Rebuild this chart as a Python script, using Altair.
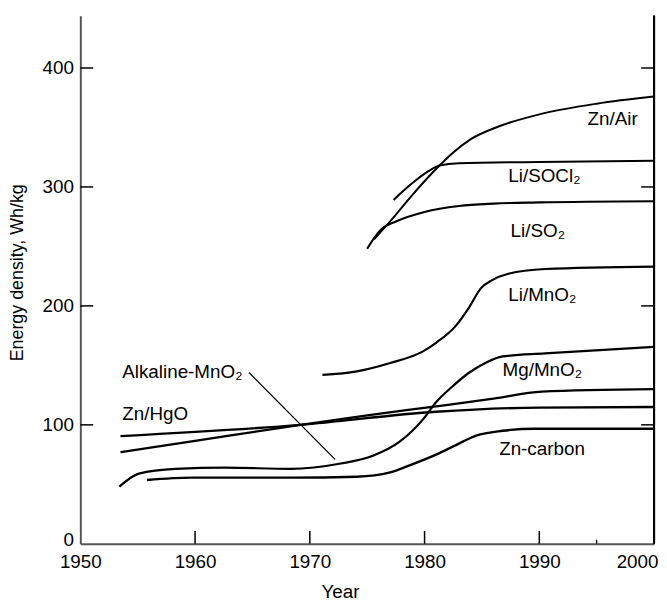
import altair as alt
import pandas as pd

FONT = "Liberation Sans"

# ---- curve data (year, energy density Wh/kg) ----
zn_air_year = [1975.6, 1977.0, 1979.0, 1981.3, 1982.5, 1984.0, 1986.5, 1990.0, 1995.0, 2000.0]
zn_air_val = [256, 271, 294, 318, 329, 340, 351, 361, 370, 376]

li_socl2_year = [1977.3, 1978.3, 1979.3, 1980.3, 1981.3, 1983.0, 1990.0, 2000.0]
li_socl2_val = [289, 298, 306, 313, 318, 320, 321, 322]

li_so2_year = [1975.0, 1975.6, 1976.3, 1977.5, 1980.0, 1983.0, 1986.0, 1990.0, 2000.0]
li_so2_val = [248, 257, 265, 271, 279, 284, 286, 287, 288]

li_mno2_year = [1971.1, 1974.1, 1977.0, 1979.9, 1981.0, 1982.7, 1983.9, 1984.9, 1985.9, 1987.3, 1990.5, 2000.0]
li_mno2_val = [142, 145, 152, 162, 169, 183, 199, 214.7, 221.7, 227, 231, 233]

alk_year = [1953.4, 1955.1, 1958.3, 1962.6, 1968.3, 1972.7, 1975.5, 1977.8, 1979.9, 1981.0, 1982.4, 1983.9, 1985.3, 1986.8, 1990.5, 2000.0]
alk_val = [48, 59, 63, 64, 63, 67.5, 74, 85.6, 105, 119, 132, 144, 152, 157.5, 160, 165.6]

mg_year = [1953.5, 1960.0, 1969.2, 1975.0, 1981.0, 1986.0, 1990.2, 2000.0]
mg_val = [77, 86.5, 100, 108, 115.5, 122, 128, 130]

hgo_year = [1953.5, 1969.2, 1981.0, 1990.0, 2000.0]
hgo_val = [90.5, 100, 111, 114.5, 115]

znc_year = [1955.8, 1959.7, 1968.3, 1974.1, 1977.0, 1978.7, 1981.0, 1982.7, 1984.5, 1986.8, 1989.6, 2000.0]
znc_val = [53.6, 55.6, 55.6, 56.4, 60, 66, 75, 82.8, 91, 95, 96.7, 96.7]

series_names = ["Zn/Air", "Li/SOCl2", "Li/SO2", "Li/MnO2",
                "Alkaline-MnO2", "Mg/MnO2", "Zn/HgO", "Zn-carbon"]
series_data = [(zn_air_year, zn_air_val), (li_socl2_year, li_socl2_val),
               (li_so2_year, li_so2_val), (li_mno2_year, li_mno2_val),
               (alk_year, alk_val), (mg_year, mg_val),
               (hgo_year, hgo_val), (znc_year, znc_val)]
series_widths = [2.0, 2.4, 2.8, 2.8, 2.8, 2.8, 2.8, 2.8]

# ---- labels ----
label_text = ["Zn/Air", "Li/SOCl\u2082", "Li/SO\u2082", "Li/MnO\u2082",
              "Mg/MnO\u2082", "Zn-carbon", "Alkaline-MnO\u2082", "Zn/HgO"]
label_year = [1994.2, 1987.3, 1987.5, 1987.3, 1986.8, 1986.5, 1953.65, 1953.65]
label_val = [357, 309, 263, 209, 146, 80, 144, 109]

# pointer line from the Alkaline-MnO2 label
pointer_year = [1964.7, 1972.2]
pointer_val = [144, 71]

# ticks
x_tick_labels = [1950, 1960, 1970, 1980, 1990, 2000]
x_inner_ticks = [1960, 1970, 1980, 1990]
x_minor_ticks = [1995]
y_tick_labels = [0, 100, 200, 300, 400]
y_inner_ticks = [100, 200, 300, 400]

W, H = 579, 533
X_DOMAIN = [1950, 2000]
Y_DOMAIN = [0, 444]

rows = []
for name, (ys, vs) in zip(series_names, series_data):
    for yr, v in zip(ys, vs):
        rows.append({"series": name, "year": yr, "v": v})
df = pd.DataFrame(rows)

xscale = alt.Scale(domain=X_DOMAIN, nice=False, zero=False)
yscale = alt.Scale(domain=Y_DOMAIN, nice=False, zero=False)

x_axis = alt.Axis(values=x_tick_labels, format="d", ticks=False, tickSize=0,
                  grid=False, domainColor="#555555", domainWidth=2,
                  labelFont=FONT, labelFontSize=19, labelColor="black",
                  labelBaseline="alphabetic", labelPadding=24,
                  labelFlush=False,
                  labelAlign={"condition": {"test": "datum.value == 2000", "value": "right"},
                              "value": "center"},
                  labelOffset={"condition": {"test": "datum.value == 2000", "value": 4},
                               "value": 0},
                  title="Year", titleFont=FONT, titleFontSize=19,
                  titleFontWeight="normal", titleColor="black",
                  titleX=262, titleY=54, titleBaseline="alphabetic",
                  titleAlign="center")
y_axis = alt.Axis(values=y_tick_labels, ticks=False, tickSize=0, grid=False,
                  domainColor="#555555", domainWidth=2,
                  labelFont=FONT, labelFontSize=19, labelColor="black",
                  labelPadding=7, labelFlush=False,
                  labelOffset={"condition": {"test": "datum.value == 0", "value": -4},
                               "value": 0},
                  title="Energy density, Wh/kg", titleFont=FONT,
                  titleFontSize=18, titleFontWeight="normal",
                  titleColor="black", titleX=-63, titleY=259,
                  titleBaseline="middle", titleAlign="center",
                  titleAngle=270)

X = alt.X("year:Q", scale=xscale, axis=x_axis)
Y = alt.Y("v:Q", scale=yscale, axis=y_axis)

lines = alt.Chart(df).mark_line(color="black", interpolate="monotone").encode(
    x=X, y=Y,
    detail="series:N",
    order="year:Q",
    strokeWidth=alt.StrokeWidth("series:N",
                                scale=alt.Scale(domain=series_names, range=series_widths),
                                legend=None),
)

labels_df = pd.DataFrame({"text": label_text, "year": label_year, "v": label_val})
labels = alt.Chart(labels_df).mark_text(
    align="left", baseline="middle", font=FONT, fontSize=19, color="black"
).encode(x=X, y=Y, text="text:N")

pointer_df = pd.DataFrame({"year": [pointer_year[0]], "v": [pointer_val[0]],
                           "year2": [pointer_year[1]], "v2": [pointer_val[1]]})
pointer = alt.Chart(pointer_df).mark_rule(color="black", strokeWidth=1.3).encode(
    x=X, y=Y, x2="year2:Q", y2="v2:Q",
)

xt_df = pd.DataFrame({"year": x_inner_ticks})
x_ticks = alt.Chart(xt_df).mark_rule(color="black", strokeWidth=1.5).encode(
    x=X, y=alt.value(H - 13), y2=alt.value(H),
)
xm_df = pd.DataFrame({"year": x_minor_ticks})
x_minor = alt.Chart(xm_df).mark_rule(color="black", strokeWidth=1.2).encode(
    x=X, y=alt.value(H - 4), y2=alt.value(H),
)

yt_df = pd.DataFrame({"v": y_inner_ticks})
y_ticks_left = alt.Chart(yt_df).mark_rule(color="black", strokeWidth=1.5).encode(
    y=Y, x=alt.value(0), x2=alt.value(13),
)
y_ticks_right = alt.Chart(yt_df).mark_rule(color="black", strokeWidth=1.5).encode(
    y=Y, x=alt.value(W - 13), x2=alt.value(W),
)

right_border = alt.Chart(yt_df).mark_rule(color="black", strokeWidth=2).encode(
    x=alt.value(W), y=alt.value(0), y2=alt.value(H),
)

chart = alt.layer(
    lines, pointer, x_ticks, x_minor, y_ticks_left, y_ticks_right, right_border, labels
).properties(
    width=W, height=H,
    autosize=alt.AutoSizeParams(type="none"),
    padding={"left": 73, "top": 5, "right": 5, "bottom": 55},
    background="white",
).configure_view(stroke=None)

chart.save("out.html", embed_options={"renderer": "svg", "actions": False})
